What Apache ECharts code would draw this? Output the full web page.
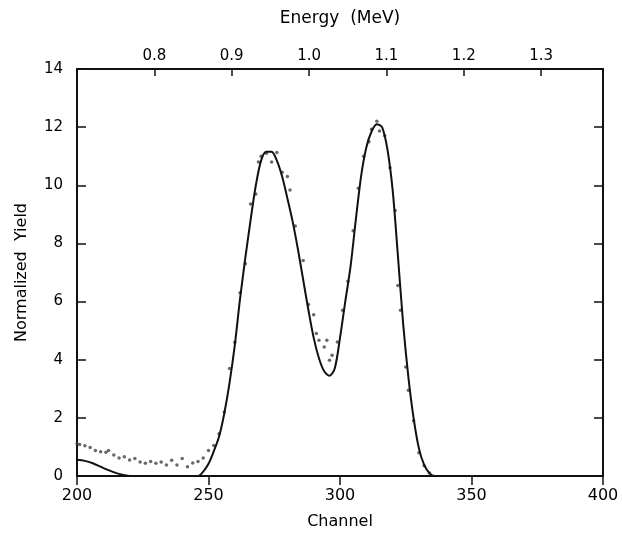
<!DOCTYPE html>
<html>
<head>
<meta charset="utf-8">
<script src="https://cdn.jsdelivr.net/npm/echarts@6/dist/echarts.min.js"></script>
<style>
  html, body { margin: 0; padding: 0; background: #fff; }
  #chart { width: 622px; height: 545px; }
</style>
</head>
<body>
<div id="chart"></div>
<script>
// fitted curve (channel, normalized yield)
const fitChannel = [200, 203, 206, 209, 212, 215, 218, 220, 246, 248, 250, 252, 254, 256, 258, 260, 262, 264, 266, 268, 270, 272, 274, 276, 278, 280, 282, 284, 286, 288, 290, 292, 294, 296, 298, 300, 302, 304, 306, 308, 310, 312, 314, 316, 318, 320, 322, 324, 326, 328, 330, 332, 334, 336, 400];
const fitYield = [0.56, 0.52, 0.44, 0.32, 0.2, 0.1, 0.03, 0, 0, 0.15, 0.42, 0.85, 1.35, 2.15, 3.2, 4.5, 6.1, 7.5, 8.8, 10.0, 10.85, 11.15, 11.15, 10.85, 10.3, 9.55, 8.75, 7.8, 6.75, 5.7, 4.75, 4.05, 3.6, 3.45, 3.7, 4.75, 6.0, 7.2, 8.8, 10.3, 11.3, 11.85, 12.1, 12.0, 11.25, 9.85, 7.6, 5.25, 3.4, 1.98, 0.95, 0.38, 0.1, 0, 0];

// measured points
const dataChannel = [200, 201, 203, 205, 207, 209, 211, 212, 214, 216, 218, 220, 222, 224, 226, 228, 230, 232, 234, 236, 238, 240, 242, 244, 246, 248, 250, 252, 254, 256, 258, 260, 262, 264, 266, 268, 269, 270, 272, 274, 276, 278, 280, 281, 283, 286, 288, 290, 291, 292, 294, 295, 296, 297, 299, 301, 303, 305, 307, 309, 311, 312, 314, 315, 317, 319, 321, 322, 323, 325, 326, 328, 330, 332, 334];
const dataYield = [1.12, 1.08, 1.04, 0.98, 0.88, 0.83, 0.82, 0.88, 0.72, 0.62, 0.66, 0.55, 0.6, 0.48, 0.44, 0.5, 0.44, 0.48, 0.38, 0.54, 0.38, 0.6, 0.32, 0.45, 0.5, 0.62, 0.88, 1.05, 1.45, 2.2, 3.7, 4.6, 6.3, 7.3, 9.36, 9.7, 10.8, 11.0, 11.1, 10.8, 11.13, 10.45, 10.3, 9.84, 8.6, 7.41, 5.9, 5.55, 4.9, 4.67, 4.44, 4.67, 3.98, 4.15, 4.61, 5.7, 6.7, 8.44, 9.9, 11.0, 11.5, 11.93, 12.2, 11.87, 11.7, 10.6, 9.13, 6.55, 5.7, 3.75, 2.95, 1.9, 0.8, 0.35, 0.1];

const energyTicks = [0.8, 0.9, 1.0, 1.1, 1.2, 1.3];

const fitData = fitChannel.map((c, i) => [c, fitYield[i]]);
const pointData = dataChannel.map((c, i) => [c, dataYield[i]]);

const txt = { color: '#000', fontFamily: 'DejaVu Sans', fontSize: 15 };
const frame = { show: true, onZero: false, lineStyle: { color: '#111', width: 2 } };

const chart = echarts.init(document.getElementById('chart'));
chart.setOption({
    animation: false,
    backgroundColor: '#fff',
    grid: { left: 77, right: 19, top: 69, bottom: 69 },
    xAxis: [{
        type: 'value',
        position: 'bottom',
        min: 200,
        max: 400,
        interval: 50,
        name: 'Channel',
        nameLocation: 'middle',
        nameGap: 38,
        nameTextStyle: Object.assign({}, txt, { fontSize: 16 }),
        axisLine: frame,
        axisTick: { show: true, inside: false, length: 9, lineStyle: { color: '#111', width: 1.5 } },
        axisLabel: Object.assign({}, txt, { margin: 12, fontSize: 16, showMinLabel: true, showMaxLabel: true }),
        splitLine: { show: false }
    }, {
        type: 'value',
        position: 'top',
        min: 0.7,
        max: 1.38,
        interval: 0.1,
        name: 'Energy  (MeV)',
        nameLocation: 'middle',
        nameGap: 42,
        nameTextStyle: Object.assign({}, txt, { fontSize: 17 }),
        axisLine: frame,
        axisTick: { show: true, inside: true, length: 7, lineStyle: { color: '#111', width: 1.5 } },
        axisLabel: Object.assign({}, txt, {
            margin: 5,
            formatter: function (v) {
                const r = Math.round(v * 10) / 10;
                return (Math.abs(v - r) < 1e-6 && energyTicks.indexOf(r) >= 0) ? r.toFixed(1) : '';
            }
        }),
        splitLine: { show: false }
    }],
    yAxis: [{
        type: 'value',
        position: 'left',
        min: 0,
        max: 14,
        interval: 2,
        name: 'Normalized  Yield',
        nameLocation: 'middle',
        nameGap: 47,
        nameTextStyle: Object.assign({}, txt, { fontSize: 16 }),
        axisLine: frame,
        axisTick: { show: true, inside: true, length: 9, lineStyle: { color: '#111', width: 1.5 } },
        axisLabel: Object.assign({}, txt, { margin: 14, showMaxLabel: true }),
        splitLine: { show: false }
    }, {
        type: 'value',
        position: 'right',
        min: 0,
        max: 14,
        interval: 2,
        axisLine: frame,
        axisTick: { show: true, inside: true, length: 9, lineStyle: { color: '#111', width: 1.5 } },
        axisLabel: { show: false },
        splitLine: { show: false }
    }],
    series: [{
        name: 'data',
        type: 'scatter',
        xAxisIndex: 0,
        yAxisIndex: 0,
        symbol: 'circle',
        symbolSize: 3.5,
        itemStyle: { color: '#444' },
        data: pointData,
        z: 2
    }, {
        name: 'fit',
        type: 'line',
        xAxisIndex: 0,
        yAxisIndex: 0,
        smooth: 0.3,
        showSymbol: false,
        lineStyle: { color: '#111', width: 2 },
        data: fitData,
        z: 3
    }]
});
</script>
</body>
</html>
